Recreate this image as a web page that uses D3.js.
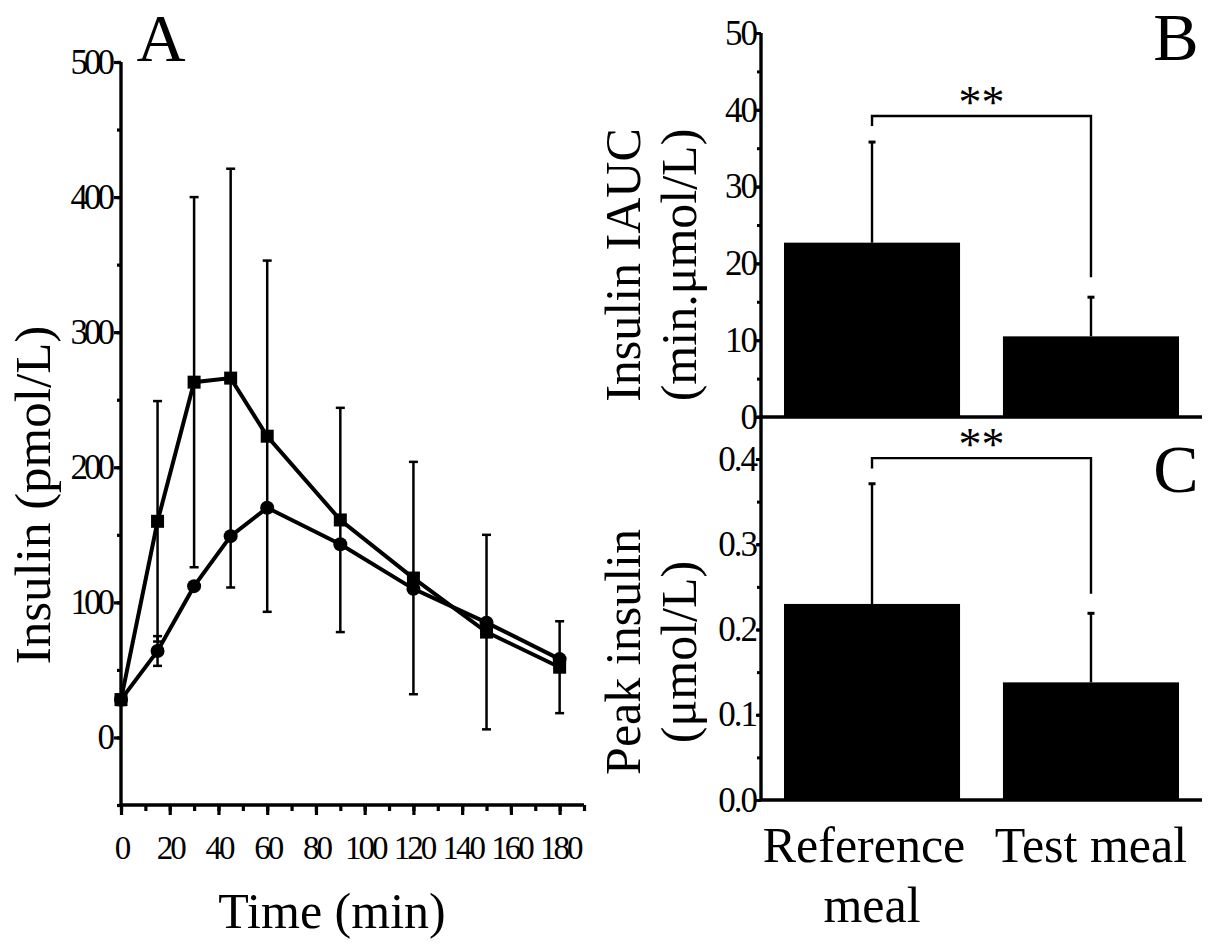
<!DOCTYPE html>
<html>
<head>
<meta charset="utf-8">
<script src="https://cdn.jsdelivr.net/npm/d3@7"></script>
<style>
  body { margin: 0; background: #fff; }
  svg text { font-family: "Liberation Serif", "Times New Roman", serif; fill: #000; }
</style>
</head>
<body>
<svg id="chart" width="1209" height="947"></svg>
<script>
// panel A: insulin time course
var times = [0, 15, 30, 45, 60, 90, 120, 150, 180]
var refMeal = [28, 160, 263, 266, 223, 161, 118, 78, 52]
var refMealSd = [4, 89, 137, 155, 130, 83, 86, 72, 34]
var testMeal = [28, 64, 112, 149, 170, 143, 110, 85, 58]
var testMealSd = [0, 11, 0, 0, 0, 0, 0, 0, 0]

var yTicksA = [0, 100, 200, 300, 400, 500]
var xTicksA = [0, 20, 40, 60, 80, 100, 120, 140, 160, 180]

// panels B and C: bar charts
var meals = ['Reference meal', 'Test meal']
var iauc = [22.7, 10.5]
var iaucSd = [13.1, 5.1]
var peak = [0.23, 0.138]
var peakSd = [0.141, 0.081]
var yTicksB = [0, 10, 20, 30, 40, 50]
var yTicksC = [0, 0.1, 0.2, 0.3, 0.4]
// significance bracket: [top, left end, right end]
var bracketB = [39.2, 37.9, 18.2]
var bracketC = [0.401, 0.389, 0.242]

var svg = d3.select('#chart')

// ---------- panel A ----------
var xA = d3.scaleLinear().domain([0, 190]).range([121, 584])
var yA = d3.scaleLinear().domain([-50, 500]).range([805, 62])

var gA = svg.append('g')

// minor ticks
gA.append('g')
    .attr('transform', 'translate(' + xA(0) + ',0)')
    .call(d3.axisLeft(yA).tickValues(d3.range(-50, 501, 50)).tickSize(4).tickFormat(''))
gA.append('g')
    .attr('transform', 'translate(0,' + yA(-50) + ')')
    .call(d3.axisBottom(xA).tickValues(d3.range(0, 191, 10)).tickSize(6).tickFormat(''))

var yAxisA = gA.append('g')
    .attr('transform', 'translate(' + xA(0) + ',0)')
    .call(d3.axisLeft(yA).tickValues(yTicksA).tickSize(7).tickPadding(3))
var xAxisA = gA.append('g')
    .attr('transform', 'translate(0,' + yA(-50) + ')')
    .call(d3.axisBottom(xA).tickValues(xTicksA).tickSize(10).tickPadding(21))

gA.selectAll('.domain').remove()
gA.selectAll('.tick line').attr('stroke-width', 3.2)
yAxisA.selectAll('text').style('font-size', '35px').style('letter-spacing', '-4px')
xAxisA.selectAll('text').style('font-size', '33px').style('letter-spacing', '-3px')

gA.append('line').attr('x1', xA(0)).attr('x2', xA(0)).attr('y1', yA(500)).attr('y2', yA(-50))
    .attr('stroke', '#000').attr('stroke-width', 3.4)
gA.append('line').attr('x1', xA(0)).attr('x2', xA(190)).attr('y1', yA(-50)).attr('y2', yA(-50))
    .attr('stroke', '#000').attr('stroke-width', 3.4)

function drawErrors(g, vals, sds, capW) {
    var eb = g.append('g').attr('stroke', '#000').attr('stroke-width', 2.5)
    times.forEach(function(t, i) {
	if (!sds[i]) return
	var x = xA(t), y1 = yA(vals[i] + sds[i]), y2 = yA(vals[i] - sds[i])
	eb.append('line').attr('x1', x).attr('x2', x).attr('y1', y1).attr('y2', y2)
	eb.append('line').attr('x1', x - capW/2).attr('x2', x + capW/2).attr('y1', y1).attr('y2', y1)
	eb.append('line').attr('x1', x - capW/2).attr('x2', x + capW/2).attr('y1', y2).attr('y2', y2)
    })
}
drawErrors(gA, refMeal, refMealSd, 9)
drawErrors(gA, testMeal, testMealSd, 9)

var line = d3.line().x(function(d) {return xA(d[0]);}).y(function(d) {return yA(d[1]);})
var refPts = d3.zip(times, refMeal)
var testPts = d3.zip(times, testMeal)
gA.append('path').attr('d', line(refPts)).attr('fill', 'none').attr('stroke', '#000').attr('stroke-width', 4)
gA.append('path').attr('d', line(testPts)).attr('fill', 'none').attr('stroke', '#000').attr('stroke-width', 4)

gA.selectAll('rect.mk')
    .data(refPts)
    .enter()
    .append('rect')
    .attr('x', function(d) {return xA(d[0]) - 6.5;})
    .attr('y', function(d) {return yA(d[1]) - 6.5;})
    .attr('width', 13)
    .attr('height', 13)
    .attr('fill', '#000')
gA.selectAll('circle.mk')
    .data(testPts)
    .enter()
    .append('circle')
    .attr('cx', function(d) {return xA(d[0]);})
    .attr('cy', function(d) {return yA(d[1]);})
    .attr('r', 7)
    .attr('fill', '#000')

gA.append('text')
    .attr('transform', 'translate(50,495) rotate(-90)')
    .attr('text-anchor', 'middle')
    .style('font-size', '51px')
    .text('Insulin (pmol/L)')
gA.append('text')
    .attr('x', 332).attr('y', 928)
    .attr('text-anchor', 'middle')
    .style('font-size', '50px')
    .text('Time (min)')
gA.append('text')
    .attr('x', 161).attr('y', 61)
    .attr('text-anchor', 'middle')
    .style('font-size', '68px')
    .text('A')

// ---------- panels B and C ----------
var xB = d3.scaleBand().domain(meals).range([761, 1202]).paddingInner(0.196).paddingOuter(0.105)
var yB = d3.scaleLinear().domain([0, 50]).range([417, 33])
var yC = d3.scaleLinear().domain([0, 0.45]).range([800, 416.4])

function barPanel(y, vals, sds, ticks, minorStep, fmt, bracket) {
    var g = svg.append('g')
    var dom = y.domain()
    g.append('g')
	.attr('transform', 'translate(761,0)')
	.call(d3.axisLeft(y).tickValues(d3.range(dom[0], dom[1] + 1e-9, minorStep)).tickSize(4).tickFormat(''))
    var ax = g.append('g')
	.attr('transform', 'translate(761,0)')
	.call(d3.axisLeft(y).tickValues(ticks).tickSize(5).tickPadding(0).tickFormat(fmt))
    ax.selectAll('text').style('font-size', '35px').style('letter-spacing', '-2px')
    g.selectAll('.domain').remove()
    g.selectAll('.tick line').attr('stroke-width', 3)

    g.selectAll('rect')
	.data(vals)
	.enter()
	.append('rect')
	.attr('x', function(d, i) {return xB(meals[i]);})
	.attr('y', function(d) {return y(d);})
	.attr('width', xB.bandwidth())
	.attr('height', function(d) {return y(0) - y(d);})
	.attr('fill', '#000')

    var eb = g.append('g').attr('stroke', '#000').attr('stroke-width', 2.4)
    vals.forEach(function(v, i) {
	var cx = xB(meals[i]) + xB.bandwidth() / 2
	eb.append('line').attr('x1', cx).attr('x2', cx).attr('y1', y(v)).attr('y2', y(v + sds[i]))
	eb.append('line').attr('x1', cx - 3.5).attr('x2', cx + 3.5).attr('y1', y(v + sds[i])).attr('y2', y(v + sds[i]))
	    .attr('stroke-width', 3)
    })

    var x1 = xB(meals[0]) + xB.bandwidth() / 2, x2 = xB(meals[1]) + xB.bandwidth() / 2
    g.append('path')
	.attr('d', 'M' + x1 + ',' + y(bracket[1]) + 'V' + y(bracket[0]) + 'H' + x2 + 'V' + y(bracket[2]))
	.attr('fill', 'none').attr('stroke', '#000').attr('stroke-width', 2.4)
    g.append('text')
	.attr('x', (x1 + x2) / 2).attr('y', y(bracket[0]) + 2)
	.attr('text-anchor', 'middle')
	.style('font-size', '46px')
	.text('**')

    g.append('line').attr('x1', 761).attr('x2', 1202).attr('y1', y(0)).attr('y2', y(0))
	.attr('stroke', '#000').attr('stroke-width', 3.4)
    return g
}

var gB = barPanel(yB, iauc, iaucSd, yTicksB, 5, d3.format('d'), bracketB)
var gC = barPanel(yC, peak, peakSd, yTicksC, 0.05, d3.format('.1f'), bracketC)

svg.append('line').attr('x1', 761).attr('x2', 761).attr('y1', yB(50)).attr('y2', yC(0))
    .attr('stroke', '#000').attr('stroke-width', 3.4)

function yLabel(lines, cy) {
    var t = svg.append('text')
	.attr('transform', 'translate(640,' + cy + ') rotate(-90)')
	.attr('text-anchor', 'middle')
	.style('font-size', '50px')
    lines.forEach(function(s, i) {
	t.append('tspan').attr('x', 0).attr('y', i * 56).text(s)
    })
}
yLabel(['Insulin IAUC', '(min.\u03bcmol/L)'], 265)
yLabel(['Peak insulin', '(\u03bcmol/L)'], 652)

svg.append('text').attr('x', 1176).attr('y', 60).attr('text-anchor', 'middle')
    .style('font-size', '68px').text('B')
svg.append('text').attr('x', 1176).attr('y', 492).attr('text-anchor', 'middle')
    .style('font-size', '68px').text('C')

// category labels
var cat = svg.append('g').style('font-size', '50px').attr('text-anchor', 'middle')
cat.append('text').attr('x', xB(meals[0]) + xB.bandwidth() / 2 - 8).attr('y', 862).text('Reference')
cat.append('text').attr('x', xB(meals[0]) + xB.bandwidth() / 2).attr('y', 922).text('meal')
cat.append('text').attr('x', xB(meals[1]) + xB.bandwidth() / 2).attr('y', 862).text('Test meal')
</script>
</body>
</html>
